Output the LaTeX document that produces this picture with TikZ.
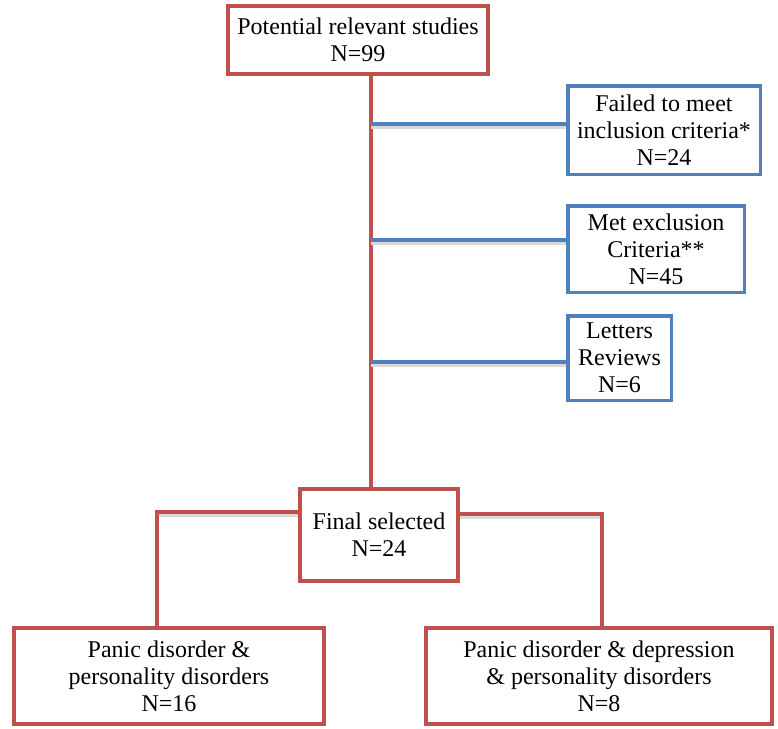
\documentclass[tikz,border=0pt]{standalone}
\usepackage{fontspec}
\setmainfont{Liberation Serif}
\usetikzlibrary{backgrounds}
\definecolor{boxred}{RGB}{192,80,77}
\definecolor{boxblue}{RGB}{79,129,189}

\begin{document}
\begin{tikzpicture}[x=1pt,y=-1pt,
  redbox/.style={draw=boxred, line width=4pt, fill=white, align=center, inner sep=0pt, font=\fontsize{24}{27}\selectfont},
  bluebox/.style={redbox, draw=boxblue, line width=3.5pt},
  shadowed/.style={preaction={draw=black!15, line width=3pt, transform canvas={yshift=-3pt}}},
  redline/.style={draw=boxred, line width=3.2pt},
  blueline/.style={draw=boxblue, line width=3.2pt, shadowed}]
\useasboundingbox (0,0) rectangle (778,728);
% boxes
\node[redbox, minimum width=260pt, minimum height=68pt] (potential) at (358,40) {Potential relevant studies\\N=99};
\node[bluebox, minimum width=192.5pt, minimum height=88.5pt] (failed) at (664,130) {Failed to meet\\inclusion criteria*\\N=24};
\node[bluebox, minimum width=176.5pt, minimum height=86.5pt] (exclusion) at (656,249) {Met exclusion\\Criteria**\\N=45};
\node[bluebox, minimum width=103.5pt, minimum height=84.5pt] (letters) at (619.5,358) {Letters\\Reviews\\N=6};
\node[redbox, minimum width=158pt, minimum height=92pt] (final) at (379,535) {Final selected\\N=24};
\node[redbox, minimum width=310pt, minimum height=96pt] (panic) at (169,676) {Panic disorder \&\\personality disorders\\N=16};
\node[redbox, minimum width=346pt, minimum height=96pt] (depression) at (599,676) {Panic disorder \& depression\\\& personality disorders\\N=8};
% branch points
\coordinate (spine) at (371,0);
\coordinate (b1) at (371,124);
\coordinate (b2) at (371,240);
\coordinate (b3) at (371,362);
\coordinate (lft) at (157,512);
\coordinate (rgt) at (602,514);
% connectors
\begin{scope}[on background layer]
\draw[redline] (potential.south -| spine) -- (final.north -| spine);
\draw[blueline] (b1) -- (failed.west |- b1);
\draw[blueline] (b2) -- (exclusion.west |- b2);
\draw[blueline] (b3) -- (letters.west |- b3);
\draw[redline, shadowed] (final.west |- lft) -- (lft) -- (panic.north -| lft);
\draw[redline, shadowed] (final.east |- rgt) -- (rgt) -- (depression.north -| rgt);
\end{scope}
\end{tikzpicture}
\end{document}
